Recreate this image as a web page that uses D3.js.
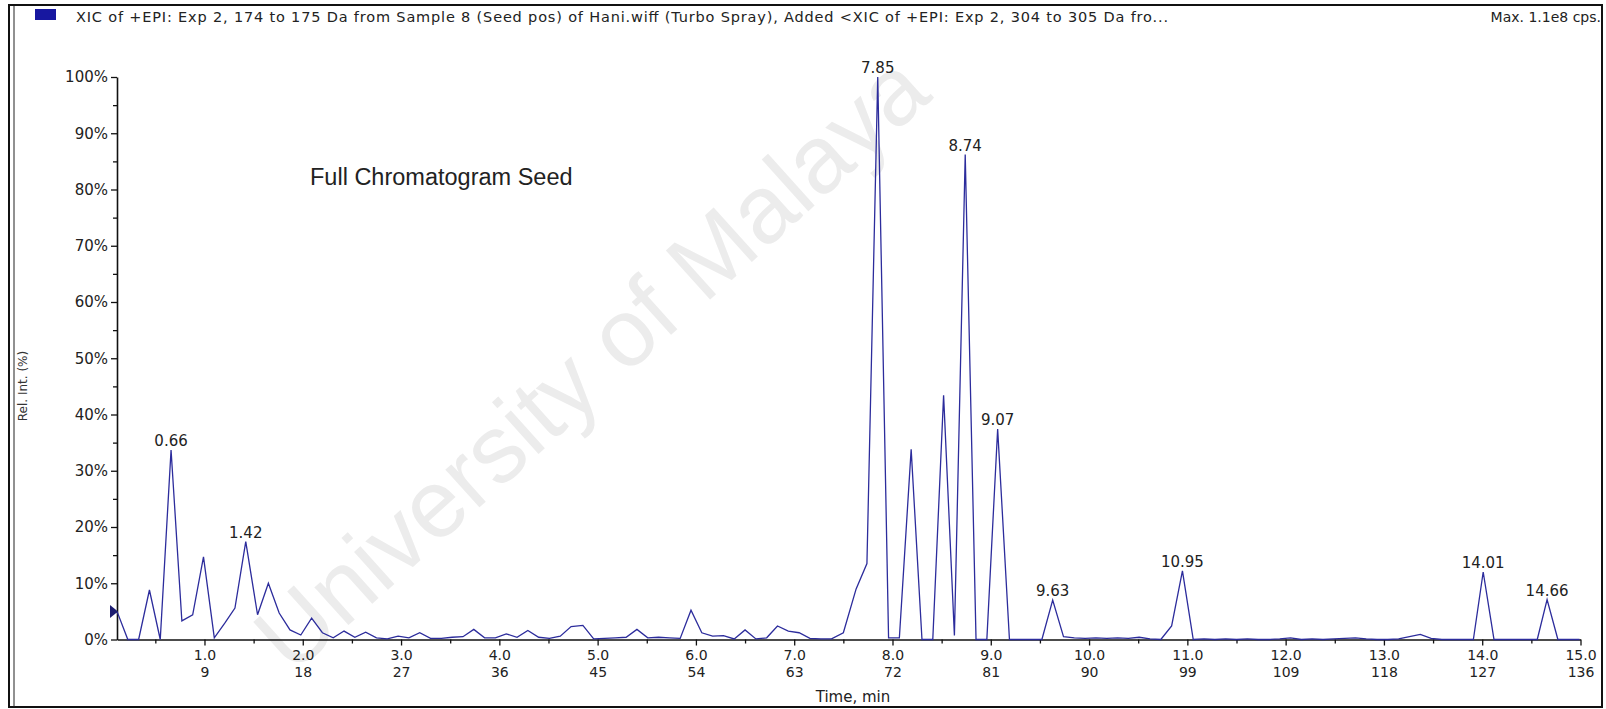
<!DOCTYPE html>
<html><head><meta charset="utf-8">
<script src="https://cdn.jsdelivr.net/npm/d3@7"></script>
<style>html,body{margin:0;padding:0;background:#fff;} svg{display:block;}</style>
</head><body>
<svg id="c" width="1606" height="709"></svg>
<script>
// ---- data ----
const times = [0.11,0.22,0.33,0.44,0.55,0.66,0.77,0.88,0.99,1.10,1.21,1.31,1.42,1.54,1.65,1.76,1.87,1.98,2.09,2.20,
  2.31,2.42,2.53,2.64,2.75,2.86,2.97,3.08,3.19,3.30,3.41,3.52,3.63,3.74,3.85,3.96,4.07,4.18,4.29,4.40,
  4.51,4.62,4.73,4.85,4.96,5.07,5.18,5.29,5.40,5.51,5.62,5.73,5.84,5.95,6.06,6.17,6.28,6.39,6.50,6.61,
  6.72,6.83,6.94,7.05,7.16,7.27,7.38,7.50,7.63,7.74,7.85,7.96,8.07,8.19,8.30,8.41,8.52,8.63,8.74,8.85,
  8.96,9.07,9.19,9.30,9.41,9.52,9.63,9.74,9.85,9.96,10.07,10.18,10.29,10.40,10.51,10.62,10.73,10.84,10.95,11.06,
  11.17,11.28,11.39,11.50,11.61,11.72,11.83,11.94,12.05,12.16,12.27,12.38,12.49,12.60,12.71,12.82,12.93,13.04,13.15,13.26,
  13.37,13.48,13.59,13.70,13.81,13.91,14.01,14.12,14.23,14.34,14.45,14.56,14.66,14.77,14.88,14.99];
const values = [5.0,0.0,0.0,8.8,0.0,33.7,3.3,4.4,14.7,0.3,3.0,5.6,17.4,4.4,10.0,4.7,1.7,0.8,3.8,1.2,
  0.3,1.5,0.4,1.3,0.3,0.1,0.6,0.3,1.2,0.2,0.2,0.4,0.5,1.8,0.3,0.3,1.0,0.4,1.6,0.4,
  0.2,0.6,2.3,2.5,0.1,0.2,0.3,0.4,1.8,0.3,0.4,0.3,0.2,5.2,1.2,0.6,0.7,0.1,1.7,0.1,
  0.3,2.4,1.5,1.2,0.2,0.1,0.1,1.2,9.0,13.5,100.0,0.3,0.3,33.8,0.0,0.0,43.4,0.7,86.2,0.0,
  0.0,37.4,0.0,0.0,0.0,0.0,7.0,0.5,0.3,0.2,0.3,0.2,0.3,0.2,0.4,0.1,0.0,2.4,12.2,0.0,
  0.1,0.0,0.1,0.0,0.1,0.0,0.0,0.1,0.3,0.0,0.1,0.0,0.1,0.2,0.3,0.1,0.0,0.0,0.1,0.5,
  0.9,0.2,0.0,0.0,0.0,0.0,12.0,0.0,0.0,0.0,0.0,0.0,7.1,0.0,0.0,0.0];
const peakLabels = ["0.66","1.42","7.85","8.74","9.07","9.63","10.95","14.01","14.66"];
const xMajorTicks = [1,2,3,4,5,6,7,8,9,10,11,12,13,14,15];
const xMinorTicks = [0.5,1.5,2.5,3.5,4.5,5.5,6.5,7.5,8.5,9.5,10.5,11.5,12.5,13.5,14.5];
const scanLabels = [9,18,27,36,45,54,63,72,81,90,99,109,118,127,136];
const yMajorTicks = [0,10,20,30,40,50,60,70,80,90,100];
const yMinorTicks = [5,15,25,35,45,55,65,75,85,95];
const titleText = "XIC of +EPI: Exp 2, 174 to 175 Da from Sample 8 (Seed pos) of Hani.wiff (Turbo Spray), Added <XIC of +EPI: Exp 2, 304 to 305 Da fro...";
const maxText = "Max. 1.1e8 cps.";
const annotation = "Full Chromatogram Seed";
const xTitle = "Time, min";
const yTitle = "Rel. Int. (%)";
const watermark = "University of Malaya";

// ---- drawing ----
const svg = d3.select("#c");
const FONT = "'DejaVu Sans', sans-serif";
const lineColor = "#2c2c9c";

// watermark (faint, kept fully inside the picture)
svg.append("text").attr("transform","translate(292,676) rotate(-42)")
  .attr("font-family","'Liberation Sans', Arial, sans-serif").attr("font-size",96)
  .attr("fill","#ececec").text(watermark);

const x = d3.scaleLinear().domain([0.11, 15.0]).range([117, 1580.5]);
const y = d3.scaleLinear().domain([0, 100]).range([639.5, 77]);

// frame
svg.append("rect").attr("x",9).attr("y",5).attr("width",1593).attr("height",702)
  .attr("fill","none").attr("stroke","#111").attr("stroke-width",2);
svg.append("line").attr("x1",14).attr("x2",14).attr("y1",6).attr("y2",707)
  .attr("stroke","#222").attr("stroke-width",1);

// title bar
svg.append("rect").attr("x",35).attr("y",9).attr("width",21).attr("height",11).attr("fill","#1717a0");
svg.append("text").attr("x",76).attr("y",21.5).attr("font-family",FONT).attr("font-size",14.5)
  .attr("textLength",1092).attr("lengthAdjust","spacing")
  .attr("fill","#222").text(titleText);
svg.append("text").attr("x",1601).attr("y",21.5).attr("text-anchor","end").attr("font-family",FONT)
  .attr("font-size",14).attr("fill","#222").text(maxText);

// axes
const yAxis = svg.append("g").attr("transform","translate(117,0)")
  .call(d3.axisLeft(y).tickValues(yMajorTicks).tickSize(6).tickSizeOuter(0).tickPadding(3).tickFormat(d => d + "%"));
svg.append("g").attr("transform","translate(117,0)")
  .call(d3.axisLeft(y).tickValues(yMinorTicks).tickSize(4).tickSizeOuter(0).tickFormat(""))
  .call(g => g.select(".domain").remove());

const xAxis = svg.append("g").attr("transform","translate(0,639.5)")
  .call(d3.axisBottom(x).tickValues(xMajorTicks).tickSize(6).tickSizeOuter(0).tickFormat(d3.format(".1f")));
svg.append("g").attr("transform","translate(0,639.5)")
  .call(d3.axisBottom(x).tickValues(xMinorTicks).tickSize(4).tickSizeOuter(0).tickFormat(""))
  .call(g => g.select(".domain").remove());

svg.selectAll(".domain").attr("stroke","#111").attr("stroke-width",1.6);
svg.selectAll(".tick line").attr("stroke","#111").attr("stroke-width",1.3);

yAxis.selectAll(".tick text").attr("font-family",FONT).attr("font-size",15).attr("fill","#222");

xAxis.selectAll(".tick text").each(function(d, i) {
  const t = d3.select(this);
  const lbl = d3.format(".1f")(d);
  t.text(null).attr("y", null).attr("dy", null)
   .attr("font-family",FONT).attr("font-size",14).attr("fill","#222");
  t.append("tspan").attr("x",0).attr("y",20.5).text(lbl);
  t.append("tspan").attr("x",0).attr("y",37.5).text(scanLabels[xMajorTicks.indexOf(d)]);
});

// axis titles
svg.append("text").attr("x",853).attr("y",702).attr("text-anchor","middle")
  .attr("font-family",FONT).attr("font-size",15).attr("fill","#222").text(xTitle);
svg.append("text").attr("transform","translate(26.5,386) rotate(-90)").attr("text-anchor","middle")
  .attr("font-family",FONT).attr("font-size",12).attr("fill","#333").text(yTitle);

// annotation
svg.append("text").attr("x",310).attr("y",185)
  .attr("font-family","'Liberation Sans', Arial, sans-serif").attr("font-size",23.5)
  .attr("fill","#222").text(annotation);

// trace
const pts = times.map((t, i) => [t, values[i]]);
svg.append("path").datum(pts)
  .attr("fill","none").attr("stroke",lineColor).attr("stroke-width",1.3).attr("stroke-linejoin","miter")
  .attr("d", d3.line().x(d => x(d[0])).y(d => y(d[1])));

// start marker
const y0 = y(values[0]);
svg.append("path").attr("d", `M110,${y0-6.5} L118,${y0} L110,${y0+6.5} Z`).attr("fill","#1c1c70");

// peak labels
peakLabels.forEach(lbl => {
  const t = +lbl;
  const idx = d3.minIndex(times, tt => Math.abs(tt - t));
  svg.append("text").attr("x", x(times[idx])).attr("y", y(values[idx]) - 4)
    .attr("text-anchor","middle").attr("font-family",FONT).attr("font-size",15)
    .attr("fill","#222").text(lbl);
});
</script>
</body></html>
